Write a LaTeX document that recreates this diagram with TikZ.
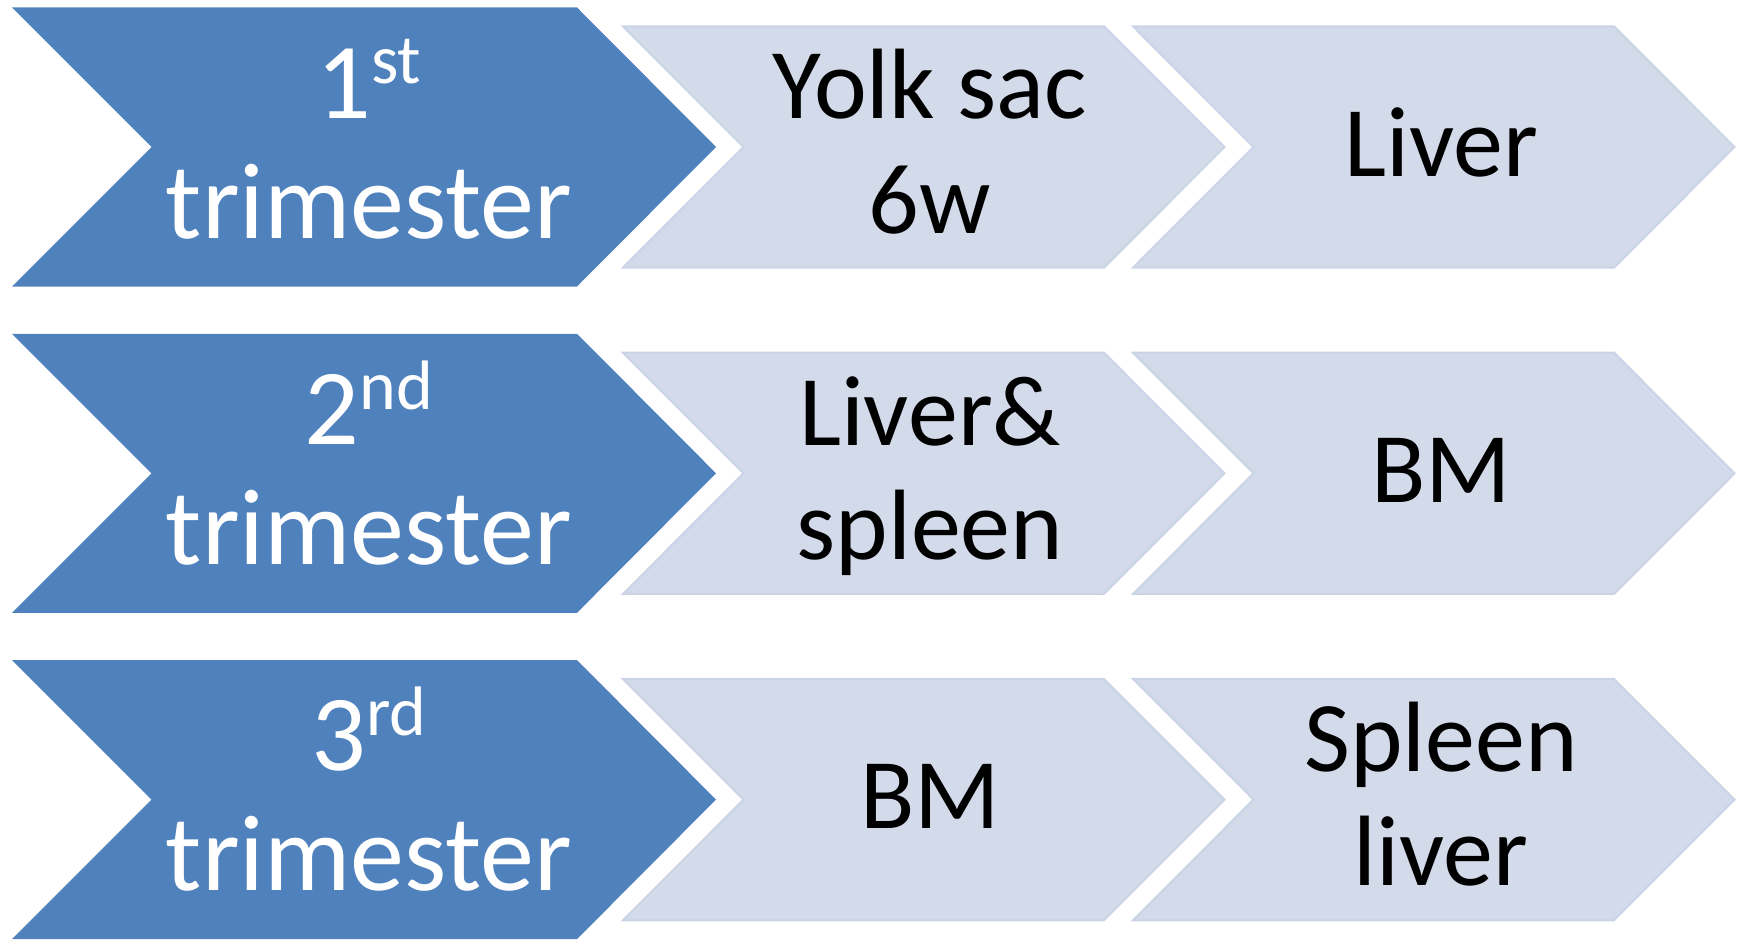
\documentclass[tikz,border=0pt]{standalone}
\usepackage{fontspec}
\setmainfont{Carlito}
\definecolor{darkc}{HTML}{4F81BD}
\definecolor{lightc}{HTML}{D3DBEA}
\definecolor{lightedge}{HTML}{CBD4E6}
\newcommand\supx[1]{\raisebox{35pt}{\fontsize{70}{70}\selectfont #1}}
\begin{document}
\begin{tikzpicture}[x=1pt,y=-1pt,
  darkchev/.style={fill=darkc},
  lightchev/.style={fill=lightc, draw=lightedge, line width=2pt, line join=miter},
  wtxt/.style={text=white, font=\fontsize{108}{108}\selectfont, inner sep=0pt, anchor=base},
  ktxt/.style={text=black, font=\fontsize{100}{100}\selectfont, inner sep=0pt, anchor=base}]
\useasboundingbox (0,0) rectangle (1744,939);
\foreach \r in {0,1,2}{
  \pgfmathsetmacro\yc{147+326.3*\r}
  \path[darkchev] (12,\yc-139.5) -- (577,\yc-139.5) -- (716,\yc) -- (577,\yc+139.5)
     -- (12,\yc+139.5) -- (151.5,\yc) -- cycle;
  \path[lightchev] (623,\yc-120.65) -- (1104,\yc-120.65) -- (1224.5,\yc) -- (1104,\yc+120.65)
     -- (623,\yc+120.65) -- (743.5,\yc) -- cycle;
  \path[lightchev] (1133,\yc-120.65) -- (1614,\yc-120.65) -- (1734.5,\yc) -- (1614,\yc+120.65)
     -- (1133,\yc+120.65) -- (1253.5,\yc) -- cycle;
}
% row 1 (yc = 147)
\node[wtxt] (a1) at (369,118) {1\supx{st}};
\node[wtxt] (a2) at (369,238) {trimester};
\node[ktxt] (b1) at (930,119) {Yolk sac};
\node[ktxt] (b2) at (930,233) {6w};
\node[ktxt] (c1) at (1441,176) {Liver};
% row 2 (yc = 473.3)
\node[wtxt] (d1) at (369,444.3) {2\supx{nd}};
\node[wtxt] (d2) at (369,564.3) {trimester};
\node[ktxt] (e1) at (930,445.3) {Liver\&};
\node[ktxt] (e2) at (930,559.3) {spleen};
\node[ktxt] (f1) at (1441,502.3) {BM};
% row 3 (yc = 799.6)
\node[wtxt] (g1) at (369,770.6) {3\supx{rd}};
\node[wtxt] (g2) at (369,890.6) {trimester};
\node[ktxt] (h1) at (930,828.6) {BM};
\node[ktxt] (i1) at (1441,771.6) {Spleen};
\node[ktxt] (i2) at (1441,885.6) {liver};
\end{tikzpicture}
\end{document}
